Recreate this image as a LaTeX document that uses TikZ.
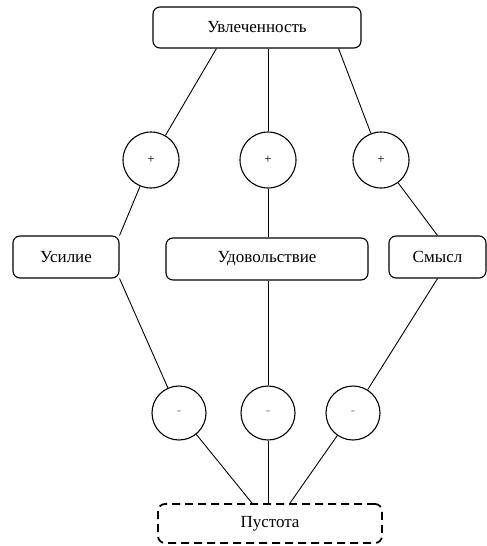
\documentclass[tikz,border=0pt]{standalone}
\usepackage{fontspec}
\setmainfont{Liberation Serif}
\usepackage{tikz}
\usetikzlibrary{positioning}
\usetikzlibrary{calc}

\tikzset{
    termbox/.style={draw, rounded corners=7pt, line width=1.1pt, font=\fontsize{17}{20}\selectfont, inner sep=0pt},
    signnode/.style={draw, circle, line width=1.1pt, inner sep=0pt, font=\fontsize{13}{15}\selectfont},
    voidbox/.style={draw, rounded corners=7pt, line width=1.8pt, dash pattern=on 8pt off 5pt, font=\fontsize{17}{20}\selectfont, inner sep=0pt},
    link/.style={line width=0.9pt}
}

\begin{document}
\begin{tikzpicture}[x=1pt, y=-1pt]

% Frame
\useasboundingbox (0,0) rectangle (487,546);

% Top
\node[termbox, minimum width=208pt, minimum height=41pt] (top) at (257,27.5) {Увлеченность};

% Plus signs
\node[signnode, minimum size=56pt] (p1) at (151,160) {+};
\node[signnode, minimum size=56pt] (p2) at (268,160) {+};
\node[signnode, minimum size=56pt] (p3) at (381,160) {+};

% Middle row
\node[termbox, minimum width=106pt, minimum height=42pt] (usilie) at (66,257) {Усилие};
\node[termbox, minimum width=202pt, minimum height=42pt] (udov) at (267,259) {Удовольствие};
\node[termbox, minimum width=97pt, minimum height=42pt] (smysl) at (437.5,257) {Смысл};

% Minus signs
\node[signnode, minimum size=54pt, text=gray] (m1) at (179,413) {-};
\node[signnode, minimum size=54pt, text=gray] (m2) at (268,413) {-};
\node[signnode, minimum size=54pt, text=gray] (m3) at (353,413) {-};

% Bottom
\node[voidbox, minimum width=224pt, minimum height=39pt] (pust) at (270,523.5) {Пустота};

% Upper links
\draw[link] ([xshift=64pt]top.south west) -- (p1);
\draw[link] (p2 |- top.south) -- (p2);
\draw[link] ([xshift=-23pt]top.south east) -- (p3);
\draw[link] (p1) -- (usilie.north east);
\draw[link] (p2) -- (p2 |- udov.north);
\draw[link] (p3) -- (smysl.north);

% Lower links
\draw[link] (usilie.south east) -- (m1);
\draw[link] (m2 |- udov.south) -- (m2);
\draw[link] (smysl.south) -- (m3);
\draw[link] (m1) -- ([xshift=-18pt]pust.north);
\draw[link] (m2) -- (m2 |- pust.north);
\draw[link] (m3) -- ([xshift=20pt]pust.north);

\end{tikzpicture}
\end{document}
